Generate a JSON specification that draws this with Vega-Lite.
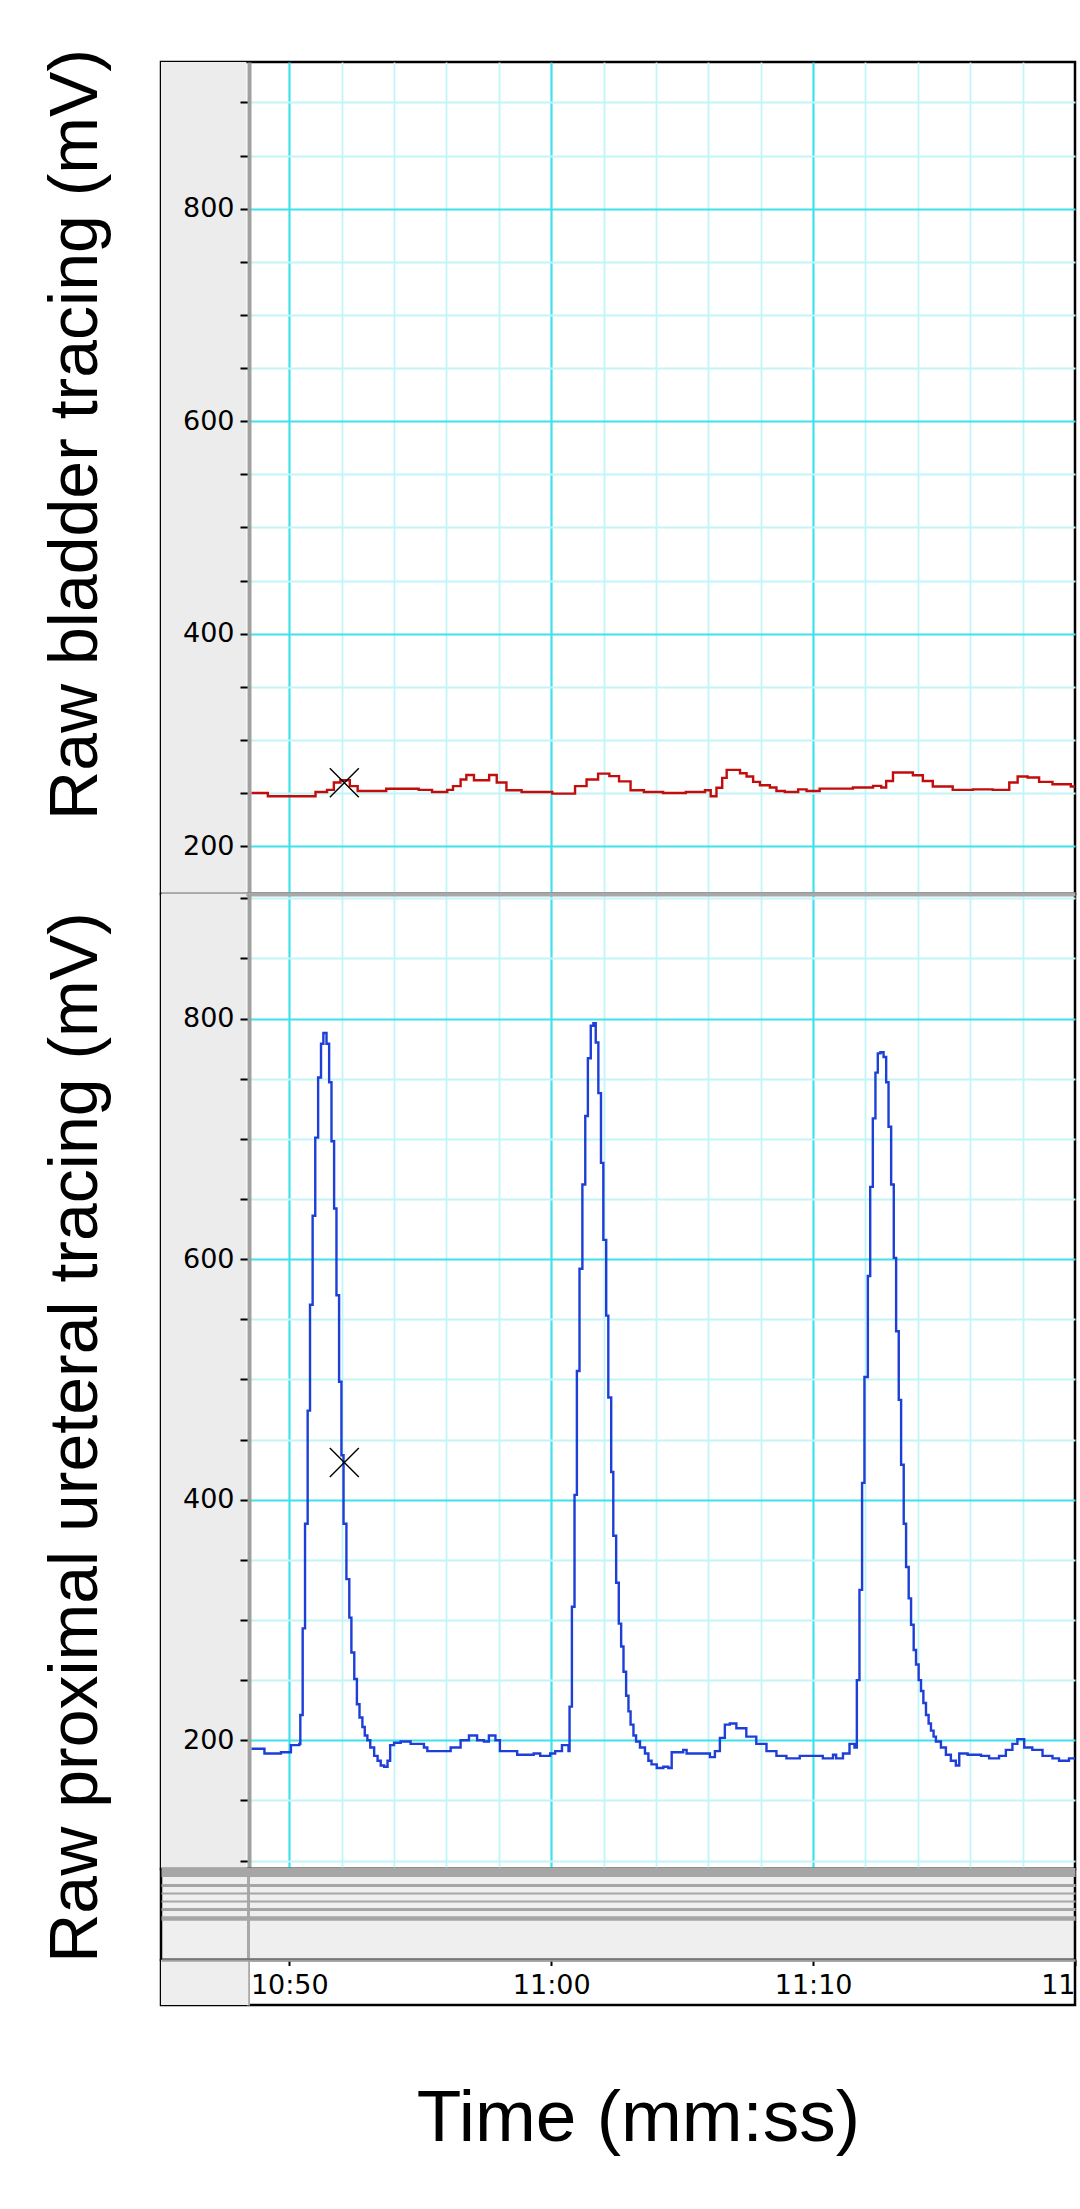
{
  "$schema": "https://vega.github.io/schema/vega-lite/v6.json",
  "padding": {"left": 40, "top": 47, "right": 5, "bottom": 5},
  "background": "white",
  "config": {"font": "DejaVu Sans", "view": {"stroke": null}},
  "datasets": {
    "bladder": [
      {"t": 648.55, "mV": 250}, {"t": 649.18, "mV": 247}, {"t": 650.13, "mV": 247}, {"t": 651.0, "mV": 251},
      {"t": 651.44, "mV": 253}, {"t": 651.7, "mV": 260}, {"t": 651.95, "mV": 262}, {"t": 652.31, "mV": 256.5},
      {"t": 652.61, "mV": 252}, {"t": 653.7, "mV": 254}, {"t": 654.94, "mV": 253}, {"t": 655.45, "mV": 251},
      {"t": 656.03, "mV": 253}, {"t": 656.25, "mV": 256.5}, {"t": 656.54, "mV": 262.7}, {"t": 656.76, "mV": 267},
      {"t": 657.05, "mV": 262}, {"t": 657.34, "mV": 262}, {"t": 657.63, "mV": 267}, {"t": 657.92, "mV": 260},
      {"t": 658.29, "mV": 252.7}, {"t": 658.87, "mV": 251}, {"t": 659.46, "mV": 251}, {"t": 660.04, "mV": 249.5},
      {"t": 660.69, "mV": 249.5}, {"t": 660.91, "mV": 256.5}, {"t": 661.35, "mV": 262.7}, {"t": 661.79, "mV": 268.3},
      {"t": 662.22, "mV": 265.9}, {"t": 662.59, "mV": 261}, {"t": 663.03, "mV": 252.7}, {"t": 663.54, "mV": 251},
      {"t": 664.27, "mV": 250}, {"t": 665.14, "mV": 251}, {"t": 665.87, "mV": 252.7}, {"t": 666.09, "mV": 247},
      {"t": 666.31, "mV": 255}, {"t": 666.53, "mV": 264.3}, {"t": 666.7, "mV": 271.8}, {"t": 666.95, "mV": 271.8},
      {"t": 667.21, "mV": 268.7}, {"t": 667.46, "mV": 265.6}, {"t": 667.71, "mV": 260.5}, {"t": 667.97, "mV": 257.4},
      {"t": 668.35, "mV": 255.2}, {"t": 668.6, "mV": 252}, {"t": 668.92, "mV": 251}, {"t": 669.43, "mV": 253.5},
      {"t": 669.75, "mV": 252}, {"t": 670.25, "mV": 254.2}, {"t": 671.52, "mV": 255.2}, {"t": 672.29, "mV": 256.8},
      {"t": 672.6, "mV": 255.2}, {"t": 672.79, "mV": 261.4}, {"t": 673.05, "mV": 269.3}, {"t": 673.43, "mV": 269.3},
      {"t": 673.81, "mV": 266.8}, {"t": 674.19, "mV": 261.4}, {"t": 674.57, "mV": 256.1}, {"t": 675.33, "mV": 253},
      {"t": 676.1, "mV": 253.5}, {"t": 676.86, "mV": 253}, {"t": 677.24, "mV": 253}, {"t": 677.49, "mV": 259.9},
      {"t": 677.81, "mV": 265.6}, {"t": 678.19, "mV": 264.6}, {"t": 678.63, "mV": 260.5}, {"t": 679.14, "mV": 258.3},
      {"t": 679.84, "mV": 256.1}, {"t": 680.0, "mV": 256}
    ],
    "ureter": [
      {"t": 648.55, "mV": 193}, {"t": 649.05, "mV": 189}, {"t": 649.68, "mV": 190}, {"t": 650.06, "mV": 196},
      {"t": 650.38, "mV": 197}, {"t": 650.42, "mV": 221}, {"t": 650.51, "mV": 293}, {"t": 650.6, "mV": 380},
      {"t": 650.7, "mV": 474}, {"t": 650.79, "mV": 562}, {"t": 650.89, "mV": 636}, {"t": 650.99, "mV": 701},
      {"t": 651.1, "mV": 751}, {"t": 651.21, "mV": 779}, {"t": 651.3, "mV": 788}, {"t": 651.42, "mV": 779},
      {"t": 651.52, "mV": 747}, {"t": 651.61, "mV": 698}, {"t": 651.71, "mV": 642}, {"t": 651.8, "mV": 570},
      {"t": 651.9, "mV": 498}, {"t": 651.99, "mV": 437}, {"t": 652.07, "mV": 380}, {"t": 652.18, "mV": 334},
      {"t": 652.29, "mV": 302}, {"t": 652.37, "mV": 273}, {"t": 652.48, "mV": 251}, {"t": 652.58, "mV": 230},
      {"t": 652.68, "mV": 219}, {"t": 652.79, "mV": 211}, {"t": 652.88, "mV": 204}, {"t": 652.98, "mV": 200},
      {"t": 653.09, "mV": 194}, {"t": 653.24, "mV": 187}, {"t": 653.37, "mV": 183}, {"t": 653.49, "mV": 179},
      {"t": 653.62, "mV": 178}, {"t": 653.75, "mV": 183}, {"t": 653.85, "mV": 196}, {"t": 654.0, "mV": 198},
      {"t": 654.25, "mV": 199}, {"t": 654.63, "mV": 197}, {"t": 655.14, "mV": 194}, {"t": 655.27, "mV": 191},
      {"t": 655.9, "mV": 191}, {"t": 656.16, "mV": 194}, {"t": 656.54, "mV": 200}, {"t": 656.86, "mV": 204},
      {"t": 657.17, "mV": 200}, {"t": 657.43, "mV": 199}, {"t": 657.62, "mV": 204}, {"t": 657.87, "mV": 200},
      {"t": 658.04, "mV": 191}, {"t": 658.7, "mV": 188}, {"t": 659.33, "mV": 189}, {"t": 659.58, "mV": 187},
      {"t": 659.96, "mV": 189}, {"t": 660.15, "mV": 191}, {"t": 660.41, "mV": 196}, {"t": 660.66, "mV": 191},
      {"t": 660.7, "mV": 228}, {"t": 660.79, "mV": 311}, {"t": 660.89, "mV": 404}, {"t": 660.98, "mV": 507},
      {"t": 661.08, "mV": 592}, {"t": 661.19, "mV": 662}, {"t": 661.3, "mV": 719}, {"t": 661.4, "mV": 767},
      {"t": 661.51, "mV": 794}, {"t": 661.61, "mV": 796}, {"t": 661.7, "mV": 780}, {"t": 661.8, "mV": 738},
      {"t": 661.9, "mV": 680}, {"t": 661.99, "mV": 616}, {"t": 662.1, "mV": 553}, {"t": 662.18, "mV": 485},
      {"t": 662.29, "mV": 423}, {"t": 662.37, "mV": 370}, {"t": 662.48, "mV": 331}, {"t": 662.58, "mV": 297},
      {"t": 662.67, "mV": 278}, {"t": 662.76, "mV": 257}, {"t": 662.86, "mV": 237}, {"t": 662.95, "mV": 224},
      {"t": 663.03, "mV": 213}, {"t": 663.14, "mV": 204}, {"t": 663.24, "mV": 199}, {"t": 663.39, "mV": 194},
      {"t": 663.58, "mV": 189}, {"t": 663.71, "mV": 183}, {"t": 663.83, "mV": 180}, {"t": 664.03, "mV": 177},
      {"t": 664.28, "mV": 178}, {"t": 664.47, "mV": 177}, {"t": 664.6, "mV": 190}, {"t": 665.04, "mV": 192},
      {"t": 665.17, "mV": 189}, {"t": 665.93, "mV": 189}, {"t": 666.06, "mV": 186}, {"t": 666.25, "mV": 191},
      {"t": 666.44, "mV": 202}, {"t": 666.63, "mV": 213}, {"t": 666.82, "mV": 214}, {"t": 667.07, "mV": 210},
      {"t": 667.45, "mV": 203}, {"t": 667.83, "mV": 197}, {"t": 668.22, "mV": 191}, {"t": 668.6, "mV": 187},
      {"t": 668.98, "mV": 185}, {"t": 669.49, "mV": 187}, {"t": 669.99, "mV": 187}, {"t": 670.37, "mV": 185},
      {"t": 670.76, "mV": 188}, {"t": 670.88, "mV": 185}, {"t": 671.14, "mV": 189}, {"t": 671.39, "mV": 197},
      {"t": 671.58, "mV": 194}, {"t": 671.67, "mV": 250}, {"t": 671.77, "mV": 325}, {"t": 671.87, "mV": 414},
      {"t": 671.96, "mV": 502}, {"t": 672.09, "mV": 586}, {"t": 672.18, "mV": 660}, {"t": 672.28, "mV": 717},
      {"t": 672.38, "mV": 755}, {"t": 672.47, "mV": 771}, {"t": 672.57, "mV": 772}, {"t": 672.69, "mV": 768},
      {"t": 672.79, "mV": 747}, {"t": 672.88, "mV": 710}, {"t": 672.98, "mV": 662}, {"t": 673.08, "mV": 601},
      {"t": 673.17, "mV": 540}, {"t": 673.27, "mV": 483}, {"t": 673.36, "mV": 429}, {"t": 673.46, "mV": 380},
      {"t": 673.55, "mV": 344}, {"t": 673.65, "mV": 318}, {"t": 673.74, "mV": 296}, {"t": 673.84, "mV": 275},
      {"t": 673.93, "mV": 263}, {"t": 674.03, "mV": 250}, {"t": 674.12, "mV": 241}, {"t": 674.21, "mV": 231},
      {"t": 674.31, "mV": 221}, {"t": 674.41, "mV": 214}, {"t": 674.5, "mV": 208}, {"t": 674.6, "mV": 203},
      {"t": 674.69, "mV": 199}, {"t": 674.88, "mV": 194}, {"t": 675.07, "mV": 188}, {"t": 675.26, "mV": 183},
      {"t": 675.45, "mV": 179}, {"t": 675.58, "mV": 189}, {"t": 675.9, "mV": 188}, {"t": 676.41, "mV": 187},
      {"t": 676.72, "mV": 185}, {"t": 677.1, "mV": 187}, {"t": 677.36, "mV": 192}, {"t": 677.61, "mV": 197},
      {"t": 677.8, "mV": 201}, {"t": 678.06, "mV": 194}, {"t": 678.37, "mV": 192}, {"t": 678.76, "mV": 187},
      {"t": 679.14, "mV": 185}, {"t": 679.39, "mV": 183}, {"t": 679.77, "mV": 185}, {"t": 680.0, "mV": 185}
    ],
    "bladderMark": [{"t": 652.1, "mV": 259.6}],
    "ureterMark": [{"t": 652.1, "mV": 431}]
  },
  "spacing": 0,
  "bounds": "flush",
  "vconcat": [
    {
      "width": 914,
      "height": 832,
      "view": {"stroke": "black", "strokeWidth": 2.5, "fill": "white"},
      "resolve": {"axis": {"x": "independent", "y": "independent"}},
      "layer": [
        {
          "data": {"values": [{}]},
          "mark": {"type": "rect", "color": "#ececec"},
          "encoding": {
            "x": {"datum": 645.1, "type": "quantitative", "scale": {"domain": [645.1, 680], "nice": false, "zero": false}, "axis": null},
            "x2": {"datum": 648.36},
            "y": {"datum": 155, "type": "quantitative", "scale": {"domain": [155, 938], "nice": false, "zero": false}, "axis": null},
            "y2": {"datum": 938}
          }
        },
        {
          "data": {"name": "bladder"},
          "mark": {"type": "line", "interpolate": "step-after", "color": "#c20d0d", "strokeWidth": 2.4, "clip": true},
          "encoding": {
            "x": {
              "field": "t", "type": "quantitative",
              "scale": {"domain": [645.1, 680], "nice": false, "zero": false},
              "axis": {
                "orient": "bottom", "title": null, "labels": false, "ticks": false, "zindex": 0,
                "values": [650, 652, 654, 656, 658, 660, 662, 664, 666, 668, 670, 672, 674, 676, 678],
                "grid": true, "gridOpacity": 1,
                "gridColor": {"condition": {"test": "datum.value % 10 === 0", "value": "#3fe2ea"}, "value": "#c2f4f8"},
                "gridWidth": {"condition": {"test": "datum.value % 10 === 0", "value": 2.2}, "value": 1.8},
                "domainColor": "#a8a8a8", "domainWidth": 4
              }
            },
            "y": {
              "field": "mV", "type": "quantitative",
              "scale": {"domain": [155, 938], "nice": false, "zero": false},
              "axis": {
                "orient": "left", "title": null, "labels": false, "ticks": false, "domain": false,
                "values": [200, 250, 300, 350, 400, 450, 500, 550, 600, 650, 700, 750, 800, 850, 900],
                "grid": true, "gridOpacity": 1, "zindex": 0,
                "gridColor": {"condition": {"test": "datum.value % 200 === 0", "value": "#3fe2ea"}, "value": "#c2f4f8"},
                "gridWidth": {"condition": {"test": "datum.value % 200 === 0", "value": 2.2}, "value": 1.8}
              }
            }
          }
        },
        {
          "data": {"name": "bladderMark"},
          "mark": {"type": "point", "shape": "M-1,-1L1,1M1,-1L-1,1", "size": 841, "stroke": "black", "strokeWidth": 1.4, "filled": false, "opacity": 1},
          "encoding": {
            "x": {"field": "t", "type": "quantitative", "scale": {"domain": [645.1, 680], "nice": false, "zero": false}, "axis": null},
            "y": {
              "field": "mV", "type": "quantitative",
              "scale": {"domain": [155, 938], "nice": false, "zero": false},
              "axis": {
                "orient": "left", "offset": -88, "zindex": 1, "grid": false,
                "values": [200, 250, 300, 350, 400, 450, 500, 550, 600, 650, 700, 750, 800, 850, 900],
                "labelExpr": "datum.value % 200 === 0 ? datum.label : ''",
                "labelOverlap": false, "labelFont": "DejaVu Sans", "labelFontSize": 27, "labelColor": "black", "labelPadding": 6,
                "tickSize": 9, "tickWidth": 2, "tickColor": "black",
                "domainColor": "#a0a0a0", "domainWidth": 4,
                "title": "Raw bladder tracing (mV)",
                "titleFont": "Liberation Sans", "titleFontSize": 68, "titleFontWeight": "normal", "titleColor": "black",
                "titleAngle": -90, "titleBaseline": "alphabetic", "titleAlign": "center",
                "titleX": -153, "titleY": 372
              }
            }
          }
        }
      ]
    },
    {
      "width": 914,
      "height": 975,
      "view": {"stroke": "black", "strokeWidth": 2.5, "fill": "white"},
      "resolve": {"axis": {"x": "independent", "y": "independent"}},
      "layer": [
        {
          "data": {"values": [{}]},
          "mark": {"type": "rect", "color": "#ececec"},
          "encoding": {
            "x": {"datum": 645.1, "type": "quantitative", "scale": {"domain": [645.1, 680], "nice": false, "zero": false}, "axis": null},
            "x2": {"datum": 648.36},
            "y": {"datum": 93, "type": "quantitative", "scale": {"domain": [93, 903.5], "nice": false, "zero": false}, "axis": null},
            "y2": {"datum": 903.5}
          }
        },
        {
          "data": {"name": "ureter"},
          "mark": {"type": "line", "interpolate": "step-after", "color": "#1d3fd8", "strokeWidth": 2.4, "clip": true},
          "encoding": {
            "x": {
              "field": "t", "type": "quantitative",
              "scale": {"domain": [645.1, 680], "nice": false, "zero": false},
              "axis": {
                "orient": "top", "title": null, "labels": false, "ticks": false, "zindex": 0,
                "values": [650, 652, 654, 656, 658, 660, 662, 664, 666, 668, 670, 672, 674, 676, 678],
                "grid": true, "gridOpacity": 1,
                "gridColor": {"condition": {"test": "datum.value % 10 === 0", "value": "#3fe2ea"}, "value": "#c2f4f8"},
                "gridWidth": {"condition": {"test": "datum.value % 10 === 0", "value": 2.2}, "value": 1.8},
                "domainColor": "#a8a8a8", "domainWidth": 4
              }
            },
            "y": {
              "field": "mV", "type": "quantitative",
              "scale": {"domain": [93, 903.5], "nice": false, "zero": false},
              "axis": {
                "orient": "left", "title": null, "labels": false, "ticks": false, "domain": false,
                "values": [100, 150, 200, 250, 300, 350, 400, 450, 500, 550, 600, 650, 700, 750, 800, 850, 900],
                "grid": true, "gridOpacity": 1, "zindex": 0,
                "gridColor": {"condition": {"test": "datum.value % 200 === 0", "value": "#3fe2ea"}, "value": "#c2f4f8"},
                "gridWidth": {"condition": {"test": "datum.value % 200 === 0", "value": 2.2}, "value": 1.8}
              }
            }
          }
        },
        {
          "data": {"name": "ureterMark"},
          "mark": {"type": "point", "shape": "M-1,-1L1,1M1,-1L-1,1", "size": 841, "stroke": "black", "strokeWidth": 1.4, "filled": false, "opacity": 1},
          "encoding": {
            "x": {"field": "t", "type": "quantitative", "scale": {"domain": [645.1, 680], "nice": false, "zero": false}, "axis": null},
            "y": {
              "field": "mV", "type": "quantitative",
              "scale": {"domain": [93, 903.5], "nice": false, "zero": false},
              "axis": {
                "orient": "left", "offset": -88, "zindex": 1, "grid": false,
                "values": [100, 150, 200, 250, 300, 350, 400, 450, 500, 550, 600, 650, 700, 750, 800, 850, 900],
                "labelExpr": "datum.value % 200 === 0 ? datum.label : ''",
                "labelOverlap": false, "labelFont": "DejaVu Sans", "labelFontSize": 27, "labelColor": "black", "labelPadding": 6,
                "tickSize": 9, "tickWidth": 2, "tickColor": "black",
                "domainColor": "#a0a0a0", "domainWidth": 4,
                "title": "Raw proximal ureteral tracing (mV)",
                "titleFont": "Liberation Sans", "titleFontSize": 68, "titleFontWeight": "normal", "titleColor": "black",
                "titleAngle": -90, "titleBaseline": "alphabetic", "titleAlign": "center",
                "titleX": -153, "titleY": 543
              }
            }
          }
        }
      ]
    },
    {
      "width": 914,
      "height": 91,
      "view": {"stroke": "black", "strokeWidth": 2.5, "fill": "#efefef"},
      "layer": [
        {
          "data": {"values": [{}]},
          "mark": {"type": "point", "opacity": 0},
          "encoding": {
            "x": {
              "datum": 660, "type": "quantitative",
              "scale": {"domain": [645.1, 680], "nice": false, "zero": false},
              "axis": {
                "orient": "top", "values": [648.43], "grid": true, "gridColor": "#a8a8a8", "gridWidth": 3, "gridOpacity": 1,
                "labels": false, "ticks": false, "domain": false, "title": null
              }
            },
            "y": {
              "datum": 45, "type": "quantitative",
              "scale": {"domain": [0, 91], "reverse": true, "nice": false, "zero": false},
              "axis": {
                "values": [2.5, 15.5, 24, 32, 39.5, 49],
                "grid": true, "gridColor": "#a6a6a6", "gridOpacity": 1,
                "gridWidth": {"condition": [
                  {"test": "datum.value === 2.5", "value": 9},
                  {"test": "datum.value === 49", "value": 4.5},
                  {"test": "datum.value === 15.5 || datum.value === 39.5", "value": 3}
                ], "value": 2.2},
                "labels": false, "ticks": false, "domain": false, "title": null
              }
            }
          }
        }
      ]
    },
    {
      "width": 914,
      "height": 45,
      "view": {"stroke": "black", "strokeWidth": 2.5, "fill": "white"},
      "resolve": {"axis": {"x": "independent"}},
      "layer": [
        {
          "data": {"values": [{}]},
          "mark": {"type": "rect", "color": "#eeeeee"},
          "encoding": {
            "x": {
              "datum": 645.1, "type": "quantitative",
              "scale": {"domain": [645.1, 680], "nice": false, "zero": false},
              "axis": {
                "orient": "top", "values": [648.43], "grid": true, "gridColor": "#a8a8a8", "gridWidth": 3, "gridOpacity": 1,
                "labels": false, "ticks": false, "domain": false, "title": null
              }
            },
            "x2": {"datum": 648.43},
            "y": {"datum": 0, "type": "quantitative", "scale": {"domain": [0, 1], "nice": false, "zero": false}, "axis": null},
            "y2": {"datum": 1}
          }
        },
        {
          "data": {"values": [{}]},
          "mark": {"type": "point", "opacity": 0},
          "encoding": {
            "x": {
              "datum": 660, "type": "quantitative",
              "scale": {"domain": [645.1, 680], "nice": false, "zero": false},
              "axis": {
                "orient": "bottom", "offset": -45, "zindex": 1, "grid": false,
                "values": [650, 660, 670, 680],
                "labelExpr": "datum.value >= 680 ? '11' : floor(datum.value / 60) + ':' + (datum.value % 60 < 10 ? '0' : '') + (datum.value % 60)",
                "labelFlush": true, "labelOverlap": false,
                "labelFont": "DejaVu Sans", "labelFontSize": 27, "labelColor": "black", "labelPadding": 7,
                "tickSize": 5.5, "tickWidth": 2, "tickColor": "black",
                "domainColor": "#a0a0a0", "domainWidth": 2.5,
                "title": "Time (mm:ss)",
                "titleFont": "Liberation Sans", "titleFontSize": 73, "titleFontWeight": "normal", "titleColor": "black",
                "titleBaseline": "alphabetic", "titleAlign": "center",
                "titleX": 477, "titleY": 180
              }
            },
            "y": {"datum": 0.5, "type": "quantitative", "scale": {"domain": [0, 1], "nice": false, "zero": false}, "axis": null}
          }
        }
      ]
    }
  ]
}
